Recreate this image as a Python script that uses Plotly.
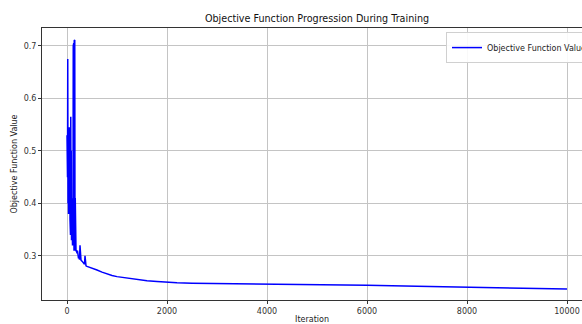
import plotly.graph_objects as go

iterations = [0, 5, 10, 15, 20, 25, 30, 35, 40, 45, 50, 55, 60, 65, 70, 75, 80, 85, 90, 95,
              100, 105, 110, 115, 120, 125, 130, 135, 140, 145, 150, 155, 160, 165, 170, 180,
              190, 200, 210, 220, 230, 240, 250, 260, 265, 280, 300, 320, 340, 350, 360, 365,
              380, 400, 500, 600, 700, 800, 900, 1000, 1100, 1200, 1400, 1600, 1800, 2000,
              2200, 2500, 3000, 4000, 5000, 6000, 7000, 8000, 9000, 10000]
values = [0.53, 0.61, 0.45, 0.675, 0.40, 0.51, 0.38, 0.50, 0.39, 0.545, 0.40, 0.54, 0.37, 0.52,
          0.34, 0.565, 0.35, 0.50, 0.33, 0.41, 0.34, 0.36, 0.32, 0.40, 0.33, 0.70, 0.32, 0.705,
          0.31, 0.71, 0.33, 0.711, 0.31, 0.41, 0.31, 0.31, 0.31, 0.305, 0.31, 0.30, 0.295, 0.30,
          0.293, 0.32, 0.295, 0.292, 0.29, 0.287, 0.285, 0.284, 0.30, 0.282, 0.281, 0.280,
          0.277, 0.273, 0.269, 0.265, 0.2625, 0.2605, 0.259, 0.2575, 0.2548, 0.2528, 0.2512,
          0.2498, 0.2488, 0.248, 0.2476, 0.247, 0.2455, 0.244, 0.242, 0.2405, 0.239, 0.237]

x_ticks = [0, 2000, 4000, 6000, 8000, 10000]
x_tick_labels = ["0", "2000", "4000", "6000", "8000", "10000"]
y_ticks = [0.3, 0.4, 0.5, 0.6, 0.7]

fig = go.Figure()
fig.add_trace(go.Scatter(x=iterations, y=values, mode="lines",
                         line=dict(color="#0000ff", width=1.5),
                         name="Objective Function Values"))

axis_common = dict(showline=True, linecolor="#333", linewidth=1, ticks="outside",
                   ticklen=3, tickcolor="#333", showgrid=True, gridcolor="#c4c4c4",
                   gridwidth=1, zeroline=False, automargin=False,
                   ticklabeloverflow="allow",
                   tickfont=dict(size=8, color="#333"))

fig.update_layout(
    width=582, height=324,
    margin=dict(l=42, r=0, t=28, b=24, autoexpand=False),
    paper_bgcolor="white", plot_bgcolor="white",
    font=dict(family="DejaVu Sans", color="#222"),
    title=dict(text="Objective Function Progression During Training", x=317/582,
               xanchor="center", xref="container", y=1 - 19/324, yanchor="middle",
               font=dict(size=9.6, color="#111")),
    xaxis=dict(range=[-500, 10300], tickvals=x_ticks, ticktext=x_tick_labels, mirror=True,
               title=dict(text="Iteration", font=dict(size=8), standoff=6), **axis_common),
    yaxis=dict(range=[0.216, 0.734], tickvals=y_ticks, tickformat=".1f",
               title=dict(text="Objective Function Value", font=dict(size=8), standoff=4),
               **axis_common),
    showlegend=True,
    legend=dict(x=(446 - 42) / 540, y=0.985, xanchor="left", yanchor="top",
                bgcolor="rgba(255,255,255,0.9)", bordercolor="#d0d0d0", borderwidth=1,
                font=dict(size=8, color="#222")),
)

fig.write_html("out.html", config={"displayModeBar": False},
               post_script="document.body.style.margin='0';document.body.style.overflow='hidden';")
